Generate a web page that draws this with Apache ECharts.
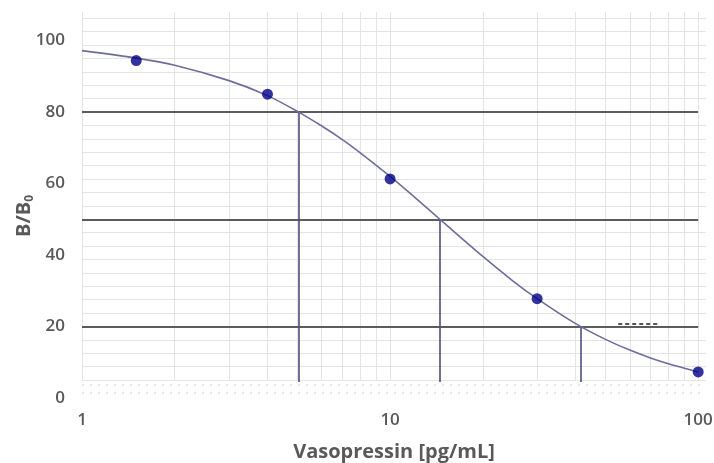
<!DOCTYPE html>
<html>
<head>
<meta charset="utf-8">
<script src="https://cdn.jsdelivr.net/npm/echarts@6/dist/echarts.min.js"></script>
<style>
html,body{margin:0;padding:0;background:#fff;}
#chart{width:714px;height:463px;}
</style>
</head>
<body>
<div id="chart"></div>
<script>
// ---- data ----
const xTickLabels = [1, 10, 100];
const yTickLabels = [0, 20, 40, 60, 80, 100];
const standardConc = [1.5, 4, 10, 30, 100];          // pg/mL
const standardBB0 = [94.4, 85.0, 61.3, 27.8, 7.3];   // %
const curveConc = [1, 1.5, 2, 3, 4, 5, 6, 7, 8, 10, 12, 15, 20, 25, 30, 40, 50, 60, 70, 80, 100];
const curveBB0 = [97.2, 95.1, 93.1, 88.8, 84.6, 80.2, 76.1, 72.3, 68.6, 62.0, 56.2, 48.9, 39.6, 32.8, 27.8, 20.8, 16.4, 13.4, 11.2, 9.6, 7.3];
const levelBB0 = [80, 50, 20];
const levelConc = [5.04, 14.5, 41.5];
// background graph-paper lines (axis values)
const paperX = [1, 2, 3, 4, 5, 6, 7, 8, 9, 10, 20, 30, 40, 50, 60, 70, 80, 90, 100];
const paperY = [5, 8.75, 12.5, 16.25, 23.75, 27.5, 31.25, 35, 38.75, 42.5, 46.25, 53.75, 57.5, 61.25, 65, 68.75, 72.5, 76.25, 83.75, 87.5, 91.25, 95, 98.75, 102.5, 106.25];
const bandY = [3.6, 1.4];

const X_MIN = 1, X_MAX = 106, Y_MIN = 0, Y_MAX = 108;

const chart = echarts.init(document.getElementById('chart'), null, {renderer: 'canvas'});

const paperLines = [];
paperX.forEach(x => paperLines.push([{coord: [x, 5]}, {coord: [x, Y_MAX]}]));
paperY.forEach(y => paperLines.push([{coord: [X_MIN, y]}, {coord: [X_MAX, y]}]));

const bandLines = bandY.map(y => [{coord: [X_MIN, y]}, {coord: [X_MAX, y]}]);

const hLines = levelBB0.map(y => [{coord: [X_MIN, y]}, {coord: [100, y]}]);
const vLines = levelConc.map((x, i) => [{coord: [x, levelBB0[i]]}, {coord: [x, 4.5]}]);

const labelFont = {fontFamily: 'Open Sans', fontWeight: 600, fontSize: 17, color: '#595959'};

function lineLayer(data, style, zl) {
  return {
    type: 'line', data: [], silent: true, zlevel: zl, z: 1,
    markLine: {
      silent: true, symbol: ['none', 'none'], label: {show: false},
      lineStyle: style, emphasis: {disabled: true}, animation: false,
      data: data
    }
  };
}

const option = {
  animation: false,
  backgroundColor: '#ffffff',
  grid: {left: 82, right: 8, top: 12, bottom: 65, containLabel: false, outerBoundsMode: 'none'},
  xAxis: {
    type: 'log', logBase: 10, min: X_MIN, max: X_MAX,
    axisLine: {show: false}, axisTick: {show: false},
    splitLine: {show: false}, minorSplitLine: {show: false},
    axisLabel: Object.assign({
      margin: 14,
      formatter: v => {
        const r = Math.round(v);
        return xTickLabels.indexOf(r) >= 0 && Math.abs(v - r) < 1e-6 * r + 1e-6 ? String(r) : '';
      }
    }, labelFont),
    name: 'Vasopressin [pg/mL]',
    nameLocation: 'middle',
    nameGap: 44,
    nameTextStyle: {fontFamily: 'Open Sans', fontWeight: 700, fontSize: 20, color: '#595959'}
  },
  yAxis: {
    type: 'value', min: Y_MIN, max: Y_MAX, interval: 20,
    axisLine: {show: false}, axisTick: {show: false}, splitLine: {show: false},
    axisLabel: Object.assign({
      margin: 17,
      formatter: v => (yTickLabels.indexOf(v) >= 0 ? String(v) : '')
    }, labelFont),
    name: '{a|B/B}{s|0}{p|}',
    nameLocation: 'middle',
    nameGap: 46,
    nameMoveOverlap: false,
    nameRotate: 90,
    nameTextStyle: {
      rich: {
        a: {fontFamily: 'Open Sans', fontWeight: 700, fontSize: 20, color: '#595959', lineHeight: 24},
        s: {fontFamily: 'Open Sans', fontWeight: 700, fontSize: 12, color: '#595959', lineHeight: 24, verticalAlign: 'bottom', padding: [9, 0, 0, 0]},
        p: {width: 22, lineHeight: 24}
      }
    }
  },
  series: [
    lineLayer(paperLines, {color: '#e4e4e4', width: 1, type: 'solid'}, 0),
    lineLayer(bandLines, {color: '#e0e0e0', width: 1.5, type: [2, 6]}, 0),
    lineLayer(hLines, {color: '#5c5c5c', width: 2, type: 'solid'}, 1),
    lineLayer(vLines, {color: '#4e4e7e', width: 1.6, type: 'solid'}, 1),
    lineLayer([[{coord: [55, 20.9]}, {coord: [75, 20.9]}]], {color: '#555', width: 2, type: [4, 3]}, 1),
    {
      type: 'line', zlevel: 2, z: 3,
      data: curveConc.map((x, i) => [x, curveBB0[i]]),
      smooth: 0.3, showSymbol: false, silent: true,
      lineStyle: {color: '#6d6d9d', width: 1.6}
    },
    {
      type: 'scatter', zlevel: 3, z: 4,
      data: standardConc.map((x, i) => [x, standardBB0[i]]),
      symbolSize: 11,
      itemStyle: {color: '#000088'}
    }
  ]
};
chart.setOption(option);
</script>
</body>
</html>
